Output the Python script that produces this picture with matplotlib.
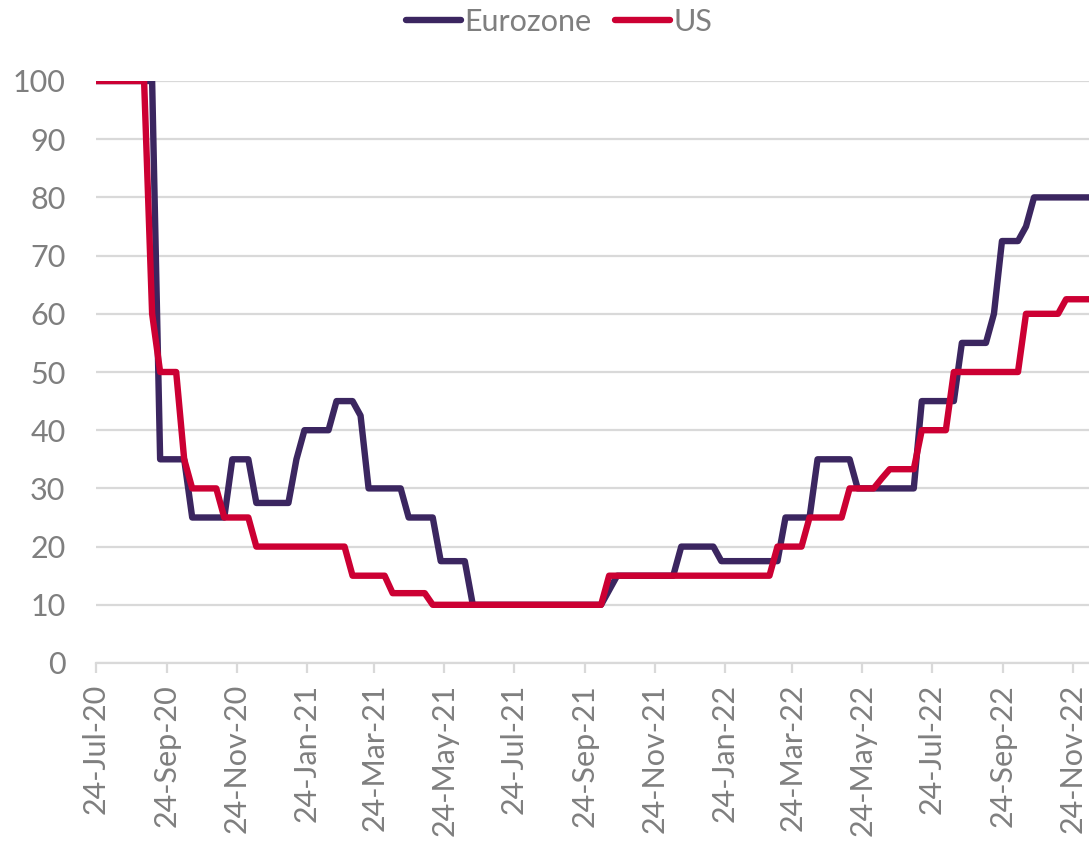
import numpy as np
import pandas as pd
import matplotlib
matplotlib.use("Agg")
import matplotlib.pyplot as plt
import matplotlib.dates as mdates

# weekly readings, starting 24-Jul-20
start = "2020-07-24"
n_weeks = 125

eurozone = [
    100, 100, 100, 100, 100, 100, 100, 100,
    35, 35, 35, 35,
    25, 25, 25, 25, 25,
    35, 35, 35,
    27.5, 27.5, 27.5, 27.5, 27.5,
    35,
    40, 40, 40, 40,
    45, 45, 45,
    42.5,
    30, 30, 30, 30, 30,
    25, 25, 25, 25,
    17.5, 17.5, 17.5, 17.5,
    10, 10, 10, 10, 10, 10, 10, 10, 10, 10, 10, 10, 10, 10, 10, 10, 10,
    12.5,
    15, 15, 15, 15, 15, 15, 15, 15,
    20, 20, 20, 20, 20,
    17.5, 17.5, 17.5, 17.5, 17.5, 17.5, 17.5, 17.5,
    25, 25, 25, 25,
    35, 35, 35, 35, 35,
    30, 30, 30, 30, 30, 30, 30, 30,
    45, 45, 45, 45, 45,
    55, 55, 55, 55,
    60,
    72.5, 72.5, 72.5,
    75,
    80, 80, 80, 80, 80, 80, 80, 80,
]

us = [
    100, 100, 100, 100, 100, 100, 100,
    60,
    50, 50, 50,
    35,
    30, 30, 30, 30,
    25, 25, 25, 25,
    20, 20, 20, 20, 20, 20, 20, 20, 20, 20, 20, 20,
    15, 15, 15, 15, 15,
    12, 12, 12, 12, 12,
    10, 10, 10, 10, 10, 10, 10, 10, 10, 10, 10,
    10, 10, 10, 10, 10, 10, 10, 10, 10, 10, 10,
    15, 15, 15, 15, 15, 15, 15, 15, 15, 15, 15,
    15, 15, 15, 15, 15, 15, 15, 15, 15, 15,
    20, 20, 20, 20,
    25, 25, 25, 25, 25,
    30, 30, 30, 30,
    31.7,
    33.3, 33.3, 33.3, 33.3,
    40, 40, 40, 40,
    50, 50, 50, 50, 50, 50, 50, 50, 50,
    60, 60, 60, 60, 60,
    62.5, 62.5, 62.5, 62.5,
]

weeks = pd.date_range(start, periods=n_weeks, freq="7D")
tick_dates = pd.date_range(start, "2022-11-24", freq=pd.DateOffset(months=2))

plt.rcParams['font.family'] = ['Lato', 'DejaVu Sans']
text_col = '#7f7f7f'
grid_col = '#d9d9d9'

fig = plt.figure(figsize=(10.89, 8.43), dpi=100)
ax = fig.add_axes([96 / 1089, 1 - 663 / 843, 993 / 1089, 582 / 843])

ax.plot(weeks, eurozone, color='#3b2660', lw=4.6, label='Eurozone',
        solid_joinstyle='round', solid_capstyle='round', zorder=3)
ax.plot(weeks, us, color='#cc0033', lw=4.6, label='US',
        solid_joinstyle='round', solid_capstyle='round', zorder=4)

ax.set_ylim(0, 100)
ax.set_yticks(np.arange(0, 101, 10))
ax.set_xlim(weeks[0], weeks[0] + pd.Timedelta(days=867))
ax.set_xticks(tick_dates)
ax.xaxis.set_major_formatter(mdates.DateFormatter('%d-%b-%y'))

ax.grid(axis='y', color=grid_col, lw=1.6, zorder=0)
for s in ['top', 'right', 'left']:
    ax.spines[s].set_visible(False)
ax.spines['bottom'].set_color(grid_col)
ax.spines['bottom'].set_linewidth(1.6)

ax.tick_params(axis='y', length=0, pad=22, labelsize=22, labelcolor=text_col)
ax.tick_params(axis='x', length=7, width=1.6, color=grid_col, pad=8,
               labelsize=22, labelcolor=text_col, labelrotation=90)

fig.legend(loc='center', bbox_to_anchor=(559 / 1089, 1 - 22 / 843), ncol=2,
           frameon=False, fontsize=22, labelcolor=text_col,
           handlelength=1.8, handletextpad=0.1, columnspacing=0.8)

fig.savefig('out.png', dpi=100)
